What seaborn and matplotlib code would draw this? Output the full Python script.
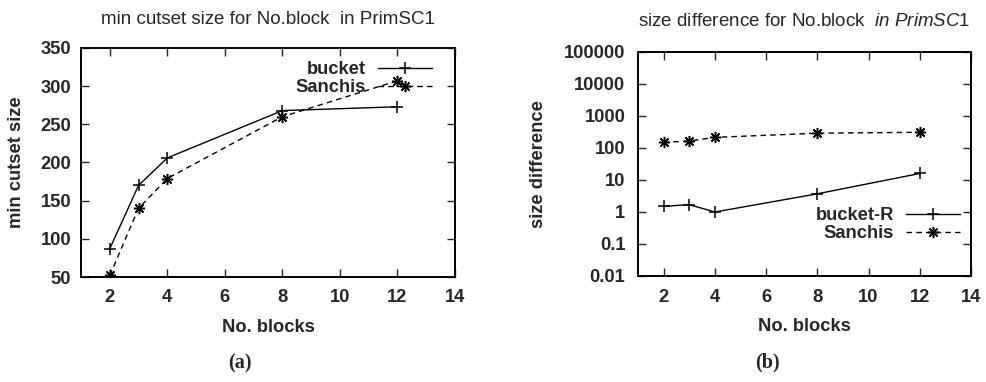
import matplotlib
matplotlib.use("Agg")
import matplotlib.pyplot as plt
import seaborn as sns
import pandas as pd
import numpy as np
from matplotlib.ticker import LogLocator, NullFormatter, FixedLocator

# ---- data ----
blocks = [2, 3, 4, 8, 12]
bucket_cut = [87, 170, 206, 268, 273]
sanchis_cut = [52, 140, 179, 260, 307]
bucket_diff = [1.5, 1.7, 1.0, 3.7, 16]
sanchis_diff = [150, 165, 215, 290, 310]

xticks = [2, 4, 6, 8, 10, 12, 14]
yticks_a = [50, 100, 150, 200, 250, 300, 350]
yticks_b = [0.01, 0.1, 1, 10, 100, 1000, 10000, 100000]
ylabels_b = ["0.01", "0.1", "1", "10", "100", "1000", "10000", "100000"]

sns.set_style("ticks")
plt.rcParams['font.family'] = ['Liberation Sans', 'DejaVu Sans']
plt.rcParams['mathtext.fontset'] = 'custom'
plt.rcParams['mathtext.rm'] = 'Liberation Sans'
plt.rcParams['mathtext.it'] = 'Liberation Sans:italic'

FS = 13.2
fig = plt.figure(figsize=(9.87, 3.82), dpi=100)
ax1 = fig.add_axes([81/987, 1-277/382, (455-81)/987, (277-48)/382])
ax2 = fig.add_axes([638/987, 1-276/382, (971-638)/987, (276-52)/382])

star = (8, 2, 0)

df_a = pd.DataFrame({
    "blocks": blocks * 2,
    "value": bucket_cut + sanchis_cut,
    "method": ["bucket"] * len(blocks) + ["Sanchis"] * len(blocks),
})
df_b = pd.DataFrame({
    "blocks": blocks * 2,
    "value": bucket_diff + sanchis_diff,
    "method": ["bucket-R"] * len(blocks) + ["Sanchis"] * len(blocks),
})

for ax, df, names in [(ax1, df_a, ["bucket", "Sanchis"]), (ax2, df_b, ["bucket-R", "Sanchis"])]:
    sns.lineplot(data=df, x="blocks", y="value", style="method",
                 markers={names[0]: "+", names[1]: star},
                 dashes={names[0]: "", names[1]: (4, 3)},
                 color="black", linewidth=1.0, markersize=8, markeredgewidth=1.1,
                 markeredgecolor="black",
                 ax=ax, legend=False)

for ax in (ax1, ax2):
    ax.set_xlim(1, 14)
    ax.xaxis.set_major_locator(FixedLocator(xticks))
    ax.tick_params(axis="both", which="both", direction="in", top=True, right=True,
                   labelsize=FS, width=1.0)
    ax.tick_params(axis="both", which="major", length=6)
    ax.tick_params(axis="x", pad=9)
    for s in ax.spines.values():
        s.set_linewidth(1.4)
        s.set_color("black")
    ax.set_xlabel("No. blocks", fontsize=FS, fontweight="bold", labelpad=9)

ax1.set_ylim(50, 350)
ax1.set_yticks(yticks_a)
ax1.set_yticklabels([str(v) for v in yticks_a], fontweight="bold")
ax1.tick_params(axis="y", pad=7)
ax1.set_ylabel("min cutset size", fontsize=FS, fontweight="bold", labelpad=11)

ax2.set_yscale("log")
ax2.set_ylim(0.01, 100000)
ax2.set_yticks(yticks_b)
ax2.set_yticklabels(ylabels_b, fontweight="bold")
ax2.yaxis.set_minor_locator(LogLocator(base=10, subs=np.arange(2, 10)))
ax2.yaxis.set_minor_formatter(NullFormatter())
ax2.tick_params(axis="y", which="minor", length=3)
ax2.tick_params(axis="y", pad=9)
ax2.set_ylabel("size difference", fontsize=FS, fontweight="bold", labelpad=12)

ax1.set_xticklabels([str(v) for v in xticks], fontweight="bold")
ax2.set_xticklabels([str(v) for v in xticks], fontweight="bold")

# legends (gnuplot style: text then sample)
h1 = ax1.get_lines()[:2]
ax1.legend(h1, ["bucket", "Sanchis"], markerfirst=False, frameon=False,
           loc="upper right", bbox_to_anchor=(0.9385, 0.943), prop={"size": FS, "weight": "bold"},
           handlelength=2.95, handletextpad=0.65, labelspacing=0.05,
           borderaxespad=0, borderpad=0)
h2 = ax2.get_lines()[:2]
ax2.legend(h2, ["bucket-R", "Sanchis"], markerfirst=False, frameon=False,
           loc="lower right", bbox_to_anchor=(0.967, 0.152), prop={"size": FS, "weight": "bold"},
           handlelength=2.95, handletextpad=0.65, labelspacing=0.05,
           borderaxespad=0, borderpad=0)

fig.text(268/987, 1-20/382, "min cutset size for No.block  in PrimSC1",
         ha="center", va="center", fontsize=13.5)
fig.text(804/987, 1-22/382, r"size difference for No.block  $\mathit{in\ PrimSC1}$",
         ha="center", va="center", fontsize=13.5)

fig.text(240/987, 1-363/382, "(a)", ha="center", va="center", fontsize=14.5,
         fontweight="bold", family=["Liberation Serif", "DejaVu Serif"])
fig.text(767/987, 1-362/382, "(b)", ha="center", va="center", fontsize=14.5,
         fontweight="bold", family=["Liberation Serif", "DejaVu Serif"])

fig.savefig("out.png", dpi=100, facecolor="white")
